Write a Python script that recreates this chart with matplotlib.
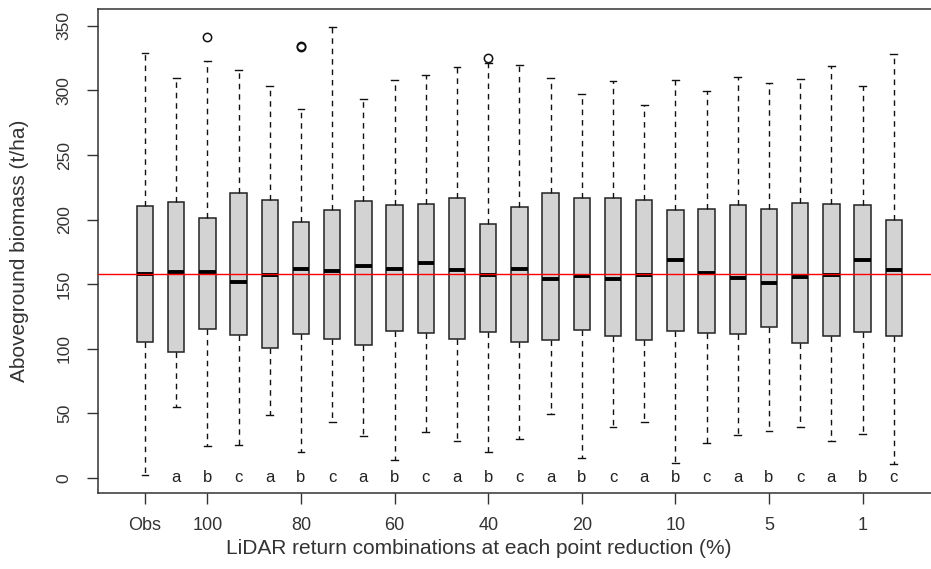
import numpy as np
import matplotlib
matplotlib.use("Agg")
import matplotlib.pyplot as plt

plt.rcParams['font.family'] = ['Liberation Sans', 'DejaVu Sans']

# Boxplot statistics (t/ha)
groups = ["Obs"] + ["a", "b", "c"] * 8
whislo = [2.1, 54.8, 24.8, 25.6, 48.6, 20.1, 43.2, 32.3, 13.7, 35.7, 28.2, 19.9, 30.2,
          49.4, 15.5, 39.3, 43.2, 11.6, 27.1, 32.8, 36.4, 39.5, 28.4, 33.6, 10.6]
q1 = [105.1, 97.6, 115.0, 110.6, 100.2, 111.6, 107.7, 103.1, 113.9, 112.4, 107.7, 113.1, 105.1,
      106.7, 114.2, 109.8, 106.7, 113.9, 112.4, 111.3, 117.0, 104.4, 109.5, 112.9, 109.5]
med = [158.1, 159.4, 159.4, 151.6, 156.8, 161.9, 159.9, 163.8, 161.9, 166.4, 160.9, 157.1, 161.9,
       153.7, 156.3, 153.7, 157.1, 168.4, 158.4, 154.7, 150.9, 155.7, 156.8, 168.4, 161.2]
q3 = [210.3, 213.4, 201.0, 220.6, 214.9, 198.4, 207.7, 214.2, 211.3, 212.3, 216.7, 196.6, 209.5,
      220.6, 216.7, 216.7, 214.9, 207.7, 208.4, 211.1, 208.4, 213.1, 212.1, 211.1, 199.5]
whishi = [328.8, 310.0, 322.9, 316.1, 303.5, 285.4, 349.5, 293.4, 308.2, 311.8, 318.2, 321.0, 320.0,
          310.0, 297.1, 307.4, 288.8, 307.9, 299.9, 310.7, 306.1, 308.9, 318.9, 303.5, 328.3]
fliers = {3: [341.2], 6: [333.8, 334.8], 12: [325.0]}

obs_line = 158.1
tick_pos = [1, 3, 6, 9, 12, 15, 18, 21, 24]
tick_labels = ["Obs", "100", "80", "60", "40", "20", "10", "5", "1"]

stats = []
for i in range(len(groups)):
    stats.append({
        "whislo": whislo[i], "q1": q1[i], "med": med[i], "q3": q3[i],
        "whishi": whishi[i], "fliers": fliers.get(i + 1, []),
    })

fig = plt.figure(figsize=(9.31, 5.69), dpi=100)
ax = fig.add_axes([98.2 / 931, 76 / 569, 842.4 / 931, 483.7 / 569])

positions = np.arange(1, len(groups) + 1)
ax.bxp(stats, positions=positions, widths=0.53, capwidths=0.22, patch_artist=True,
       boxprops=dict(facecolor="#d3d3d3", edgecolor="#222222", linewidth=1.1),
       medianprops=dict(color="black", linewidth=2.8, solid_capstyle="butt"),
       whiskerprops=dict(color="#111111", linestyle=(0, (4, 3.5)), linewidth=1.0),
       capprops=dict(color="#111111", linewidth=1.0),
       flierprops=dict(marker="o", markerfacecolor="none", markeredgecolor="#111111",
                       markersize=6, markeredgewidth=1.1))

ax.axhline(obs_line, color="red", linewidth=1.0, zorder=5)

# letters under each reduced-point box
for p, g in zip(positions[1:], groups[1:]):
    ax.text(p, 0, g, ha="center", va="center", fontsize=12, color="#222222")

ax.set_xlim(-0.5, 26.5)
ax.set_ylim(-11.86, 362.9)
ax.set_xticks(tick_pos)
ax.set_xticklabels(tick_labels, fontsize=13)
ax.set_yticks(np.arange(0, 351, 50))
ax.set_yticklabels([str(v) for v in range(0, 351, 50)], fontsize=12.5, rotation=90, va="center")
ax.tick_params(axis="both", direction="out", length=8, width=1.0, color="#333333", labelcolor="#333333")
ax.tick_params(axis="x", pad=9.5)
ax.tick_params(axis="y", pad=11)
for side in ["left", "bottom", "top", "right"]:
    ax.spines[side].set_color("#333333")
    ax.spines[side].set_linewidth(1.1)

fig.text(479 / 931, 1 - 549 / 569, "LiDAR return combinations at each point reduction (%)",
         ha="center", va="center", fontsize=15, color="#333333")
fig.text(20 / 931, 1 - 251 / 569, "Aboveground biomass (t/ha)", ha="center", va="center",
         rotation=90, fontsize=15, color="#333333")

fig.savefig("out.png", dpi=100)
